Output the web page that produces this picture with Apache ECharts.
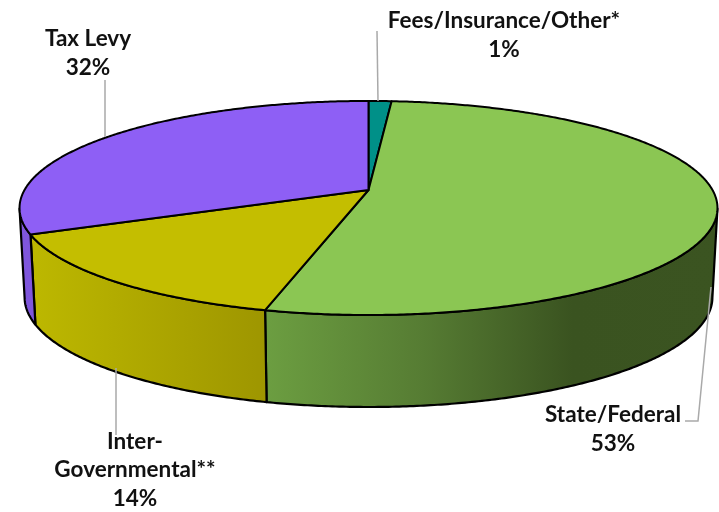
<!DOCTYPE html>
<html>
<head>
<meta charset="utf-8">
<style>html,body{margin:0;padding:0;background:#fff}#c{width:719px;height:512px}</style>
<script src="https://cdn.jsdelivr.net/npm/echarts@6/dist/echarts.min.js"></script>
</head>
<body>
<div id="c"></div>
<script>
// Data, clockwise from the back of the pie
const categories = ['Fees/Insurance/Other*', 'State/Federal', 'Inter-\nGovernmental**', 'Tax Levy'];
const shareValues = [1.25, 52.8, 14.4, 31.55];
const sliceColors = ['#009088', '#8BC653', '#C4BE00', '#8E5FF5'];

// Layout, kept apart from the data
const labelCentres = [[504, 35], [613, 429], [135, 470], [88, 53]];
const leaders = [
  [[378, 101], [377, 31]],
  [[711, 287], [698, 421], [685, 421]],
  [[116, 368], [116, 435]],
  [[105, 137], [105, 80]]
];
const APEX = [368.5, 190], K = 0.168;
const TOP = {a: 344, b: 104, dy: 0};
const BOTTOM = {a: 339, b: 106.5, dy: 89};
const WALL_FROM = 100, WALL_TO = 260;

function wallFill(i) {
  if (i === 1) return {type:'linear', x:265, y:0, x2:717, y2:0, global:true, colorStops:[
    {offset:0, color:'#6C9E41'}, {offset:0.35, color:'#567C33'}, {offset:0.68, color:'#3A5320'}, {offset:1, color:'#3B5421'}]};
  if (i === 2) return {type:'linear', x:30, y:0, x2:265, y2:0, global:true, colorStops:[
    {offset:0, color:'#BDB800'}, {offset:1, color:'#9E9600'}]};
  if (i === 3) return '#7F56DC';
  return '#007A74';
}
function project(deg, m) {
  const t = deg * Math.PI / 180, u = Math.sin(t), v = -Math.cos(t), w = 1 - K * v;
  return [APEX[0] + m.a * u / w, APEX[1] + m.dy + m.b * v / w];
}
function arc(from, to, m) {
  const pts = [], n = Math.max(2, Math.ceil(Math.abs(to - from) * 2));
  for (let j = 0; j <= n; j++) pts.push(project(from + (to - from) * j / n, m));
  return pts;
}
const total = shareValues.reduce((s, x) => s + x, 0);
function span(i) {
  let before = 0;
  for (let j = 0; j < i; j++) before += shareValues[j];
  return [before / total * 360, (before + shareValues[i]) / total * 360];
}
const tableData = categories.map((c, i) => ({name: c, value: [i, shareValues[i]]}));

const option = {
  animation: false,
  backgroundColor: '#fff',
  series: [
    {
      type: 'custom', coordinateSystem: 'none', z: 1, data: tableData, silent: true,
      renderItem(params, api) {
        const i = api.value(0), s = span(i);
        const from = Math.max(s[0], WALL_FROM), to = Math.min(s[1], WALL_TO);
        if (to <= from) return {type: 'group', children: []};
        return {type: 'polygon',
          shape: {points: arc(from, to, TOP).concat(arc(to, from, BOTTOM))},
          style: {fill: wallFill(i), stroke: '#000', lineWidth: 2.2, lineJoin: 'round'}};
      }
    },
    {
      type: 'custom', coordinateSystem: 'none', z: 2, data: tableData, silent: true,
      renderItem(params, api) {
        const i = api.value(0), s = span(i);
        return {type: 'polygon',
          shape: {points: [APEX].concat(arc(s[0], s[1], TOP))},
          style: {fill: sliceColors[i], stroke: '#000', lineWidth: 2, lineJoin: 'round'}};
      }
    },
    {
      type: 'custom', coordinateSystem: 'none', z: 3, data: tableData, silent: true,
      renderItem(params, api) {
        const i = api.value(0);
        return {type: 'group', children: [
          {type: 'polyline', shape: {points: leaders[i]},
           style: {fill: null, stroke: '#A9A9A9', lineWidth: 1.5}},
          {type: 'text', z2: 5, style: {
            x: labelCentres[i][0], y: labelCentres[i][1],
            text: categories[i] + '\n' + Math.round(api.value(1)) + '%',
            align: 'center', verticalAlign: 'middle',
            font: 'bold 22.5px Lato', lineHeight: 28.5, fill: '#111'}}
        ]};
      }
    }
  ]
};
echarts.init(document.getElementById('c'), null, {renderer: 'canvas'}).setOption(option);
</script>
</body>
</html>
